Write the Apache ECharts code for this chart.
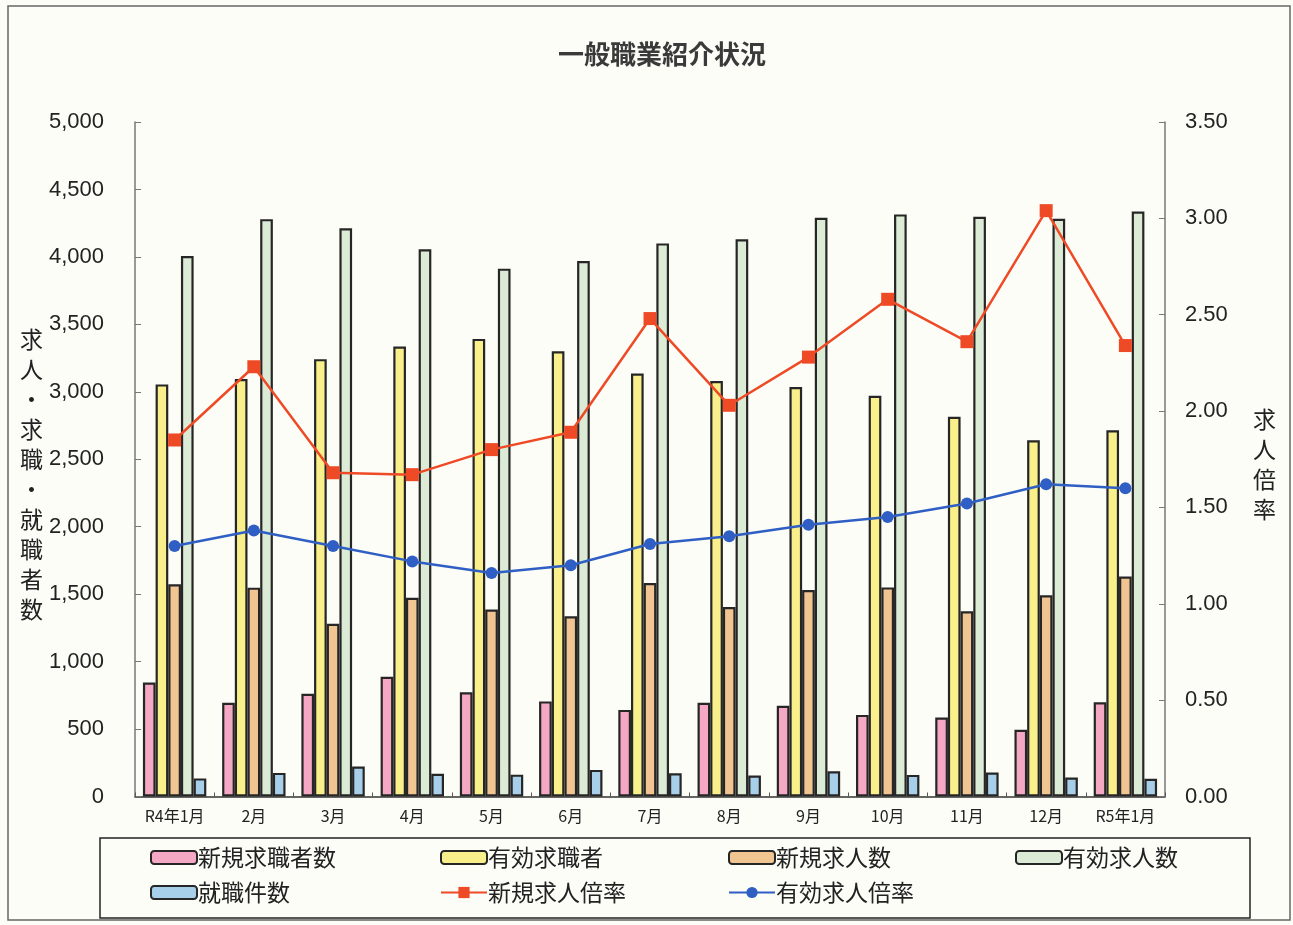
<!DOCTYPE html>
<html><head><meta charset="utf-8">
<script src="https://cdn.jsdelivr.net/npm/echarts@6/dist/echarts.min.js"></script>
<style>html,body{margin:0;padding:0;background:#fdfdf7;}#c{width:1293px;height:925px;}</style>
</head><body><div id="c"></div>
<script>
const categories = ['R4年1月','2月','3月','4月','5月','6月','7月','8月','9月','10月','11月','12月','R5年1月'];
const newSeekers = [845, 695, 762, 887, 773, 705, 642, 695, 673, 605, 585, 495, 698];
const activeSeekers = [3055, 3095, 3242, 3335, 3392, 3300, 3136, 3080, 3036, 2970, 2815, 2640, 2715];
const newOpenings = [1573, 1548, 1280, 1473, 1386, 1336, 1582, 1405, 1530, 1550, 1373, 1492, 1630];
const activeOpenings = [4006, 4280, 4212, 4056, 3913, 3970, 4100, 4130, 4290, 4315, 4297, 4282, 4336];
const placements = [134, 175, 222, 168, 162, 197, 172, 156, 187, 160, 178, 140, 131];
const newRatio = [1.85, 2.23, 1.68, 1.67, 1.80, 1.89, 2.48, 2.03, 2.28, 2.58, 2.36, 3.04, 2.34];
const activeRatio = [1.30, 1.38, 1.30, 1.22, 1.16, 1.20, 1.31, 1.35, 1.41, 1.45, 1.52, 1.62, 1.60];
const seriesNames = ['新規求職者数','有効求職者','新規求人数','有効求人数','就職件数','新規求人倍率','有効求人倍率'];

const FONT = '"Liberation Sans", "Noto Sans CJK JP", sans-serif';
const CJK = '"Noto Sans CJK JP", sans-serif';
const chart = echarts.init(document.getElementById('c'));
const barColors = ['#f5a8c4','#f9f08c','#f0c592','#dcebd6','#a8cfe9'];
const barData = [newSeekers, activeSeekers, newOpenings, activeOpenings, placements];
const bars = barData.map((d,i)=>({
  name: seriesNames[i], type:'bar', data:d, yAxisIndex:0,
  barGap:'0%', barCategoryGap:'20%',
  itemStyle:{color:barColors[i], borderColor:'#262626', borderWidth:2.2},
  z:2
}));
const lines = [
  {name:seriesNames[5], type:'line', data:newRatio, yAxisIndex:1, symbol:'rect', symbolSize:13,
   lineStyle:{color:'#ee4a26', width:2.5}, itemStyle:{color:'#ee4a26'}, z:5},
  {name:seriesNames[6], type:'line', data:activeRatio, yAxisIndex:1, symbol:'circle', symbolSize:12,
   lineStyle:{color:'#2f5fc4', width:2.5}, itemStyle:{color:'#2f5fc4'}, z:5}
];
const legendPos = [[150,846],[440,846],[728,846],[1015,846],[150,881],[440,881],[728,881]];
const legends = seriesNames.map((n,i)=>({
  data:[n], left:legendPos[i][0], top:legendPos[i][1], orient:'horizontal',
  itemWidth:46, itemHeight:i<5?13:14, itemGap:0, padding:0,
  textStyle:{fontFamily:CJK, fontSize:23, color:'#222', padding:[0,0,0,-4]}
}));
const vert = s => s.split('').join('\n');
chart.setOption({
  backgroundColor:'#fdfdf7',
  animation:false,
  title:{text:'一般職業紹介状況', left:553, top:36, textStyle:{fontFamily:CJK, fontSize:26, fontWeight:'bold', color:'#3a3a3a'}},
  legend: legends,
  grid:{left:135, right:128, top:122, bottom:128.5},
  xAxis:{type:'category', data:categories,
    axisLine:{lineStyle:{color:'#333', width:1.5}},
    axisTick:{show:true, inside:true, length:4, lineStyle:{color:'#555'}},
    axisLabel:{fontFamily:CJK, fontSize:16, color:'#222', margin:11}},
  yAxis:[
    {type:'value', min:0, max:5000, interval:500,
     axisLine:{show:true, lineStyle:{color:'#777', width:1.5}},
     axisTick:{show:true, inside:true, length:6, lineStyle:{color:'#777'}},
     splitLine:{show:false},
     axisLabel:{fontFamily:FONT, fontSize:22, color:'#222', margin:31,
       formatter:v=>v.toLocaleString('en-US')}},
    {type:'value', min:0, max:3.5, interval:0.5,
     axisLine:{show:true, lineStyle:{color:'#777', width:1.5}},
     axisTick:{show:true, inside:true, length:6, lineStyle:{color:'#777'}},
     splitLine:{show:false},
     axisLabel:{fontFamily:FONT, fontSize:22, color:'#222', margin:20,
       formatter:v=>v.toFixed(2)}}
  ],
  graphic:[
    {type:'rect', shape:{x:8, y:6, width:1282, height:914}, style:{fill:'none', stroke:'#666', lineWidth:1.5}, silent:true, z:-1},
    {type:'rect', shape:{x:100, y:838, width:1150, height:80}, style:{fill:'none', stroke:'#222', lineWidth:1.5}, silent:true},
    {type:'text', left:20, top:324, style:{text:vert('求人・求職・就職者数'), fontFamily:CJK, fontSize:23, lineHeight:30, fill:'#222', align:'center'}},
    {type:'text', left:1253, top:404, style:{text:vert('求人倍率'), fontFamily:CJK, fontSize:23, lineHeight:30, fill:'#222', align:'center'}}
  ],
  series: bars.concat(lines)
});
</script></body></html>
